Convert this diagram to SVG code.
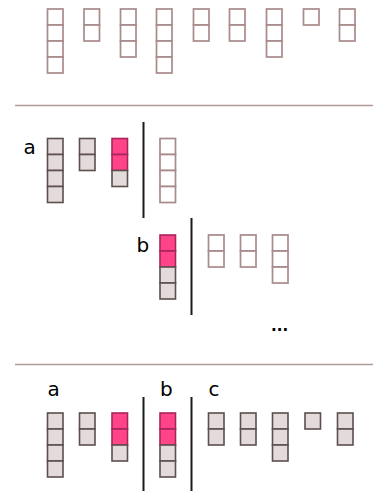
<svg xmlns="http://www.w3.org/2000/svg" width="373" height="491" viewBox="0 0 373 491">
<style>
.o{fill:#fff;stroke:#a88a8a;stroke-width:1.7}
.g{fill:#e3dbdb;stroke:#5e4e4e;stroke-width:1.6}
.p{fill:#ff4488;stroke:#a8245c;stroke-width:1.6}
.sep{stroke:#b09a9a;stroke-width:1.5}
.bar{stroke:#1a1a1a;stroke-width:2}
text{font-family:"DejaVu Sans",sans-serif;font-size:20px;fill:#000}
</style>
<defs>
<rect id="c" width="15.5" height="16"/>
</defs>
<g id="separators">
<line class="sep" x1="15" y1="105.5" x2="373" y2="105.5"/>
<line class="sep" x1="15" y1="364.5" x2="373" y2="364.5"/>
<line class="bar" x1="143.5" y1="122" x2="143.5" y2="218"/>
<line class="bar" x1="191.5" y1="218" x2="191.5" y2="315"/>
<line class="bar" x1="143.5" y1="397" x2="143.5" y2="491"/>
<line class="bar" x1="191.5" y1="397" x2="191.5" y2="491"/>
</g>
<!-- top row -->
<g id="t1" class="o"><use href="#c" x="47.5" y="9"/><use href="#c" x="47.5" y="25"/><use href="#c" x="47.5" y="41"/><use href="#c" x="47.5" y="57"/></g>
<g id="t2" class="o"><use href="#c" x="84" y="9"/><use href="#c" x="84" y="25"/></g>
<g id="t3" class="o"><use href="#c" x="120.5" y="9"/><use href="#c" x="120.5" y="25"/><use href="#c" x="120.5" y="41"/></g>
<g id="t4" class="o"><use href="#c" x="156.5" y="9"/><use href="#c" x="156.5" y="25"/><use href="#c" x="156.5" y="41"/><use href="#c" x="156.5" y="57"/></g>
<g id="t5" class="o"><use href="#c" x="193.5" y="9"/><use href="#c" x="193.5" y="25"/></g>
<g id="t6" class="o"><use href="#c" x="229.5" y="9"/><use href="#c" x="229.5" y="25"/></g>
<g id="t7" class="o"><use href="#c" x="266.5" y="9"/><use href="#c" x="266.5" y="25"/><use href="#c" x="266.5" y="41"/></g>
<g id="t8" class="o"><use href="#c" x="303.5" y="9"/></g>
<g id="t9" class="o"><use href="#c" x="339.5" y="9"/><use href="#c" x="339.5" y="25"/></g>
<!-- section a -->
<text x="23.5" y="154">a</text>
<g id="a1" class="g"><use href="#c" x="47.5" y="138.5"/><use href="#c" x="47.5" y="154.5"/><use href="#c" x="47.5" y="170.5"/><use href="#c" x="47.5" y="186.5"/></g>
<g id="a2" class="g"><use href="#c" x="79.5" y="138.5"/><use href="#c" x="79.5" y="154.5"/></g>
<g id="a3"><use class="p" href="#c" x="112" y="138.5"/><use class="p" href="#c" x="112" y="154.5"/><use class="g" href="#c" x="112" y="170.5"/></g>
<g id="a4" class="o"><use href="#c" x="160" y="138.5"/><use href="#c" x="160" y="154.5"/><use href="#c" x="160" y="170.5"/><use href="#c" x="160" y="186.5"/></g>
<!-- section b -->
<text x="136.5" y="251.5">b</text>
<g id="b1"><use class="p" href="#c" x="160" y="235"/><use class="p" href="#c" x="160" y="251"/><use class="g" href="#c" x="160" y="267"/><use class="g" href="#c" x="160" y="283"/></g>
<g id="b2" class="o"><use href="#c" x="208.5" y="235"/><use href="#c" x="208.5" y="251"/></g>
<g id="b3" class="o"><use href="#c" x="240.5" y="235"/><use href="#c" x="240.5" y="251"/></g>
<g id="b4" class="o"><use href="#c" x="272.5" y="235"/><use href="#c" x="272.5" y="251"/><use href="#c" x="272.5" y="267"/></g>
<text x="271" y="331" style="font-weight:bold;font-size:15px">...</text>
<!-- bottom section -->
<text x="47.5" y="395.5">a</text>
<text x="160" y="395.5">b</text>
<text x="208.5" y="395.5">c</text>
<g id="r1" class="g"><use href="#c" x="47.5" y="413"/><use href="#c" x="47.5" y="429"/><use href="#c" x="47.5" y="445"/><use href="#c" x="47.5" y="461"/></g>
<g id="r2" class="g"><use href="#c" x="79.5" y="413"/><use href="#c" x="79.5" y="429"/></g>
<g id="r3"><use class="p" href="#c" x="112" y="413"/><use class="p" href="#c" x="112" y="429"/><use class="g" href="#c" x="112" y="445"/></g>
<g id="r4"><use class="p" href="#c" x="160" y="413"/><use class="p" href="#c" x="160" y="429"/><use class="g" href="#c" x="160" y="445"/><use class="g" href="#c" x="160" y="461"/></g>
<g id="r5" class="g"><use href="#c" x="208.5" y="413"/><use href="#c" x="208.5" y="429"/></g>
<g id="r6" class="g"><use href="#c" x="240.5" y="413"/><use href="#c" x="240.5" y="429"/></g>
<g id="r7" class="g"><use href="#c" x="272.5" y="413"/><use href="#c" x="272.5" y="429"/><use href="#c" x="272.5" y="445"/></g>
<g id="r8" class="g"><use href="#c" x="305" y="413"/></g>
<g id="r9" class="g"><use href="#c" x="337.5" y="413"/><use href="#c" x="337.5" y="429"/></g>
</svg>
